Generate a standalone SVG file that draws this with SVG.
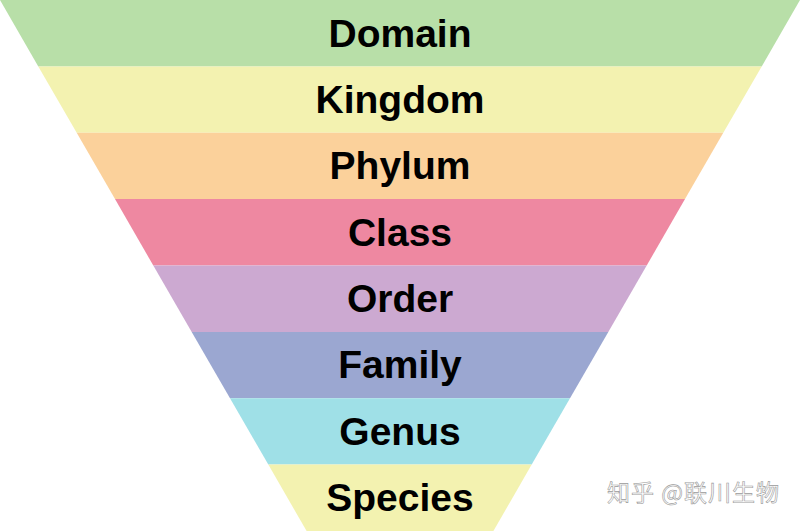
<svg xmlns="http://www.w3.org/2000/svg" width="800" height="531" viewBox="0 0 800 531">
<style>
.lbl{font-family:"Liberation Sans",Arial,sans-serif;font-weight:bold;font-size:39px;fill:#000;text-anchor:middle}
.wm{font-family:"Noto Sans CJK SC","Noto Sans",sans-serif;font-size:23px;letter-spacing:1px;fill:#fff;stroke:#9a9a9a;stroke-width:0.6px}
</style>
<rect width="800" height="531" fill="#ffffff"/>
<g id="domain"><polygon points="0,0 800,0 761.7,66.4 38.3,66.4" fill="#b8dfa8"/><text class="lbl" x="400" y="47">Domain</text></g>
<g id="kingdom"><polygon points="38.3,66.4 761.7,66.4 723.3,132.8 76.7,132.8" fill="#f3f2b0"/><text class="lbl" x="400" y="113">Kingdom</text></g>
<g id="phylum"><polygon points="76.7,132.8 723.3,132.8 685,199.1 115,199.1" fill="#fbd19b"/><text class="lbl" x="400" y="179">Phylum</text></g>
<g id="class"><polygon points="115,199.1 685,199.1 646.7,265.5 153.3,265.5" fill="#ee88a1"/><text class="lbl" x="400" y="246">Class</text></g>
<g id="order"><polygon points="153.3,265.5 646.7,265.5 608.3,331.9 191.7,331.9" fill="#cca9d1"/><text class="lbl" x="400" y="312">Order</text></g>
<g id="family"><polygon points="191.7,331.9 608.3,331.9 570,398.3 230,398.3" fill="#9ba7d1"/><text class="lbl" x="400" y="378">Family</text></g>
<g id="genus"><polygon points="230,398.3 570,398.3 531.7,464.6 268.3,464.6" fill="#9fe0e7"/><text class="lbl" x="400" y="445">Genus</text></g>
<g id="species"><polygon points="268.3,464.6 531.7,464.6 493.4,531 306.6,531" fill="#f3f2b0"/><text class="lbl" x="400" y="511">Species</text></g>
<g id="connectors"></g>
<text class="wm" x="607" y="501">知乎 @联川生物</text>
</svg>
